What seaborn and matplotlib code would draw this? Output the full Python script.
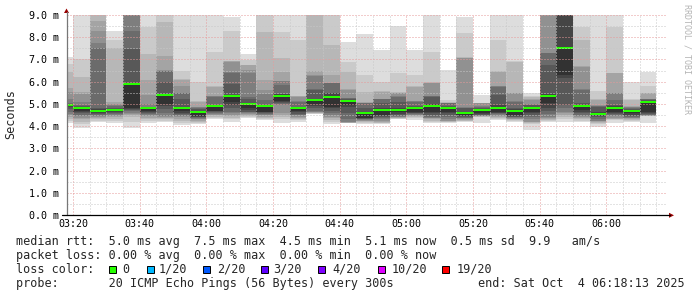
import numpy as np
import pandas as pd
import matplotlib
matplotlib.use("Agg")
import matplotlib.pyplot as plt
from matplotlib.patches import Rectangle, Polygon
import seaborn as sns

# ---------------- data ----------------
# end time of each 300 s step
step_end = ["03:20", "03:25", "03:30", "03:35", "03:40", "03:45", "03:50", "03:55",
            "04:00", "04:05", "04:10", "04:15", "04:20", "04:25", "04:30", "04:35",
            "04:40", "04:45", "04:50", "04:55", "05:00", "05:05", "05:10", "05:15",
            "05:20", "05:25", "05:30", "05:35", "05:40", "05:45", "05:50", "05:55",
            "06:00", "06:05", "06:10", "06:15"]

# median rtt (ms) per step
median_rtt = [4.95, 4.80, 4.70, 4.73, 5.88, 4.83, 5.40, 4.83, 4.65, 4.89, 5.37, 5.00,
              4.90, 5.35, 4.83, 5.17, 5.33, 5.13, 4.58, 4.73, 4.73, 4.83, 4.90, 4.83,
              4.58, 4.73, 4.83, 4.70, 4.80, 5.37, 7.50, 4.90, 4.53, 4.83, 4.70, 5.07]

# 20 sorted ping rtts (ms) per step
b_0320 = [4.13, 4.22, 4.3, 4.4, 4.5, 4.55, 4.65, 4.75, 4.85, 4.9, 4.95, 4.98, 5.0, 5.03, 5.22, 5.55, 5.73, 6.45, 6.78, 7.13]
b_0325 = [3.92, 4.1, 4.2, 4.3, 4.38, 4.45, 4.5, 4.57, 4.62, 4.68, 4.8, 4.87, 4.9, 4.95, 5.1, 5.43, 5.55, 6.23, 7.0, 9.3]
b_0330 = [4.2, 4.25, 4.3, 4.35, 4.4, 4.45, 4.5, 4.55, 4.6, 4.65, 4.7, 4.75, 4.8, 7.53, 7.76, 8.3, 8.73, 9.2, 9.4, 9.6]
b_0335 = [4.15, 4.25, 4.33, 4.4, 4.45, 4.5, 4.55, 4.6, 4.64, 4.68, 4.73, 4.78, 4.83, 4.9, 4.95, 5.0, 5.1, 7.5, 7.88, 8.3]
b_0340 = [3.9, 4.2, 4.4, 4.5, 4.55, 4.6, 4.7, 4.74, 4.77, 4.8, 5.88, 5.95, 7.45, 8.3, 9.2, 9.3, 9.4, 9.5, 9.6, 9.7]
b_0345 = [4.13, 4.22, 4.3, 4.38, 4.45, 4.5, 4.55, 4.6, 4.65, 4.7, 4.83, 4.85, 4.86, 4.88, 5.0, 5.4, 6.08, 7.23, 8.47, 9.3]
b_0350 = [4.2, 4.25, 4.3, 4.35, 4.4, 4.45, 4.6, 4.75, 4.9, 5.0, 5.4, 5.45, 5.97, 6.48, 6.5, 6.52, 7.17, 8.7, 9.2, 9.4]
b_0355 = [4.05, 4.15, 4.25, 4.32, 4.4, 4.45, 4.5, 4.55, 4.6, 4.67, 4.83, 4.88, 5.22, 5.48, 5.49, 5.82, 6.08, 6.1, 6.48, 9.1]
b_0400 = [4.08, 4.15, 4.2, 4.25, 4.3, 4.33, 4.36, 4.4, 4.42, 4.45, 4.65, 4.7, 4.78, 4.83, 4.86, 4.88, 5.1, 5.12, 6.0, 9.1]
b_0405 = [4.3, 4.38, 4.43, 4.48, 4.52, 4.56, 4.6, 4.63, 4.66, 4.68, 4.89, 4.92, 4.95, 5.33, 5.34, 5.35, 5.78, 5.8, 7.32, 9.1]
b_0410 = [4.2, 4.3, 4.38, 4.45, 4.5, 4.58, 4.65, 4.8, 4.95, 5.1, 5.37, 5.4, 5.88, 6.4, 6.42, 6.9, 6.92, 6.94, 8.3, 8.93]
b_0415 = [4.35, 4.42, 4.47, 4.52, 4.56, 4.6, 4.63, 4.65, 4.72, 4.8, 5.0, 5.03, 5.22, 5.33, 6.38, 6.53, 6.75, 6.77, 6.98, 7.23]
b_0420 = [4.28, 4.33, 4.38, 4.43, 4.48, 4.52, 4.55, 4.58, 4.62, 4.65, 4.9, 4.93, 4.95, 5.18, 5.43, 5.63, 6.08, 8.22, 9.2, 9.4]
b_0425 = [4.13, 4.3, 4.4, 4.5, 4.6, 4.95, 5.0, 5.05, 5.1, 5.15, 5.35, 5.43, 5.45, 5.85, 6.03, 6.05, 6.45, 7.08, 8.25, 9.1]
b_0430 = [4.2, 4.27, 4.33, 4.38, 4.43, 4.48, 4.52, 4.56, 4.62, 4.67, 4.83, 4.86, 4.88, 5.1, 5.12, 5.33, 5.35, 5.37, 7.88, 9.1]
b_0435 = [4.53, 4.56, 4.58, 4.6, 4.62, 4.65, 4.7, 4.8, 4.9, 5.0, 5.17, 5.22, 5.63, 5.65, 6.27, 6.29, 6.48, 9.2, 9.3, 9.4]
b_0440 = [4.08, 4.2, 4.28, 4.35, 4.4, 4.5, 4.6, 4.7, 4.8, 4.85, 5.33, 5.48, 5.5, 5.92, 5.94, 5.96, 6.3, 7.65, 9.2, 9.4]
b_0445 = [4.13, 4.14, 4.15, 4.16, 4.18, 4.2, 4.3, 4.6, 4.85, 4.97, 5.13, 5.17, 5.2, 5.25, 5.27, 5.63, 5.65, 6.45, 6.9, 7.8]
b_0450 = [4.1, 4.15, 4.18, 4.22, 4.25, 4.28, 4.3, 4.32, 4.35, 4.38, 4.58, 4.62, 4.8, 5.03, 5.04, 5.05, 5.07, 5.55, 6.3, 8.15]
b_0455 = [4.08, 4.12, 4.15, 4.2, 4.25, 4.3, 4.35, 4.4, 4.45, 4.5, 4.73, 4.8, 5.03, 5.22, 5.23, 5.24, 5.55, 5.57, 6.0, 7.43]
b_0500 = [4.3, 4.32, 4.35, 4.38, 4.4, 4.42, 4.45, 4.5, 4.55, 4.62, 4.73, 4.8, 5.1, 5.33, 5.35, 5.48, 5.5, 5.52, 6.38, 8.52]
b_0505 = [4.28, 4.35, 4.4, 4.45, 4.5, 4.52, 4.55, 4.57, 4.6, 4.65, 4.83, 4.88, 4.92, 5.1, 5.12, 5.14, 5.78, 5.8, 6.3, 7.43]
b_0510 = [4.13, 4.2, 4.25, 4.3, 4.35, 4.38, 4.42, 4.5, 4.6, 4.65, 4.9, 4.98, 5.33, 5.35, 5.37, 5.93, 5.95, 5.97, 7.32, 9.1]
b_0515 = [4.13, 4.17, 4.2, 4.22, 4.25, 4.3, 4.4, 4.5, 4.6, 4.65, 4.83, 4.88, 4.92, 5.03, 5.04, 5.05, 5.06, 5.07, 5.18, 6.53]
b_0520 = [4.2, 4.22, 4.25, 4.28, 4.3, 4.35, 4.37, 4.4, 4.45, 4.5, 4.58, 4.65, 4.8, 4.82, 4.84, 7.05, 7.07, 7.09, 8.18, 8.93]
b_0525 = [4.15, 4.42, 4.43, 4.44, 4.45, 4.47, 4.5, 4.52, 4.55, 4.6, 4.73, 4.78, 4.83, 4.88, 4.9, 5.03, 5.04, 5.05, 5.06, 5.4]
b_0530 = [4.28, 4.32, 4.36, 4.4, 4.45, 4.5, 4.54, 4.57, 4.6, 4.65, 4.83, 4.95, 5.4, 5.78, 5.8, 5.82, 6.45, 6.47, 7.88, 9.1]
b_0535 = [4.2, 4.23, 4.27, 4.3, 4.33, 4.37, 4.4, 4.42, 4.45, 4.5, 4.7, 4.75, 4.8, 5.1, 5.12, 5.48, 5.5, 6.9, 6.92, 9.1]
b_0540 = [3.82, 4.1, 4.15, 4.18, 4.2, 4.3, 4.4, 4.5, 4.6, 4.65, 4.8, 4.85, 4.95, 4.97, 4.98, 5.18, 5.2, 5.33, 5.35, 5.48]
b_0545 = [4.2, 4.23, 4.27, 4.3, 4.35, 4.4, 4.55, 4.7, 4.8, 5.03, 5.37, 5.43, 6.75, 7.28, 7.3, 9.1, 9.2, 9.3, 9.4, 9.5]
b_0550 = [4.2, 4.3, 4.42, 4.5, 4.58, 4.65, 4.8, 4.95, 6.15, 6.3, 7.5, 9.1, 9.2, 9.3, 9.4, 9.5, 9.6, 9.7, 9.8, 9.9]
b_0555 = [4.2, 4.25, 4.3, 4.35, 4.4, 4.45, 4.5, 4.58, 4.65, 4.73, 4.9, 4.95, 5.03, 5.63, 5.65, 6.68, 6.7, 7.88, 8.48, 9.1]
b_0600 = [3.98, 4.1, 4.15, 4.2, 4.22, 4.25, 4.3, 4.42, 4.45, 4.5, 4.53, 4.65, 4.88, 4.9, 4.92, 4.94, 5.18, 5.2, 5.58, 9.1]
b_0605 = [4.13, 4.28, 4.3, 4.33, 4.35, 4.45, 4.5, 4.55, 4.6, 4.65, 4.83, 4.9, 4.95, 5.18, 5.48, 5.5, 6.38, 6.4, 8.48, 9.1]
b_0610 = [4.2, 4.25, 4.28, 4.32, 4.35, 4.38, 4.42, 4.47, 4.52, 4.58, 4.7, 4.74, 4.77, 4.8, 4.85, 4.88, 4.9, 5.18, 5.2, 6.0]
b_0615 = [4.15, 4.44, 4.45, 4.46, 4.47, 4.48, 4.5, 4.55, 4.6, 4.65, 5.07, 5.12, 5.18, 5.2, 5.22, 5.24, 5.48, 5.5, 5.82, 6.45]

smoke_rows = [b_0320, b_0325, b_0330, b_0335, b_0340, b_0345, b_0350, b_0355,
              b_0400, b_0405, b_0410, b_0415, b_0420, b_0425, b_0430, b_0435,
              b_0440, b_0445, b_0450, b_0455, b_0500, b_0505, b_0510, b_0515,
              b_0520, b_0525, b_0530, b_0535, b_0540, b_0545, b_0550, b_0555,
              b_0600, b_0605, b_0610, b_0615]

y_ticks = [0, 1, 2, 3, 4, 5, 6, 7, 8, 9]
x_tick_labels = ["03:20", "03:40", "04:00", "04:20", "04:40", "05:00", "05:20", "05:40", "06:00"]
loss_levels = ["0", "1/20", "2/20", "3/20", "4/20", "10/20", "19/20"]
loss_colors = ["#26ff00", "#00b8ff", "#0059ff", "#5e00ff", "#7e00ff", "#dd00ff", "#ff0000"]

# ---------------- helpers ----------------
def to_min(s):
    h, m = s.split(":")
    return int(h) * 60 + int(m)

t_end = np.array([to_min(s) for s in step_end], dtype=float)
t_mid = t_end - 2.5          # centre of the 5 minute step
x_start = to_min("06:18") + 13 / 60 - 180   # 3 hours ending 06:18:13
x_stop = to_min("06:18") + 13 / 60

P = np.sort(np.array(smoke_rows, dtype=float), axis=1)
med = np.array(median_rtt)

W, H = 697, 297
sns.set_style("white")
plt.rcParams["font.family"] = ["DejaVu Sans Mono"]

fig = plt.figure(figsize=(W / 100, H / 100), dpi=100, facecolor="white")
ax = fig.add_axes([67 / W, 1 - 215 / H, 600 / W, 200 / H])
ax.set_facecolor("white")

# smoke: 10 nested bands, outer light -> inner dark
n = P.shape[1]
half = n // 2
for ibot in range(1, half + 1):
    itop = n + 1 - ibot
    g = int(190 / half * (half - ibot)) + 50
    col = "#%02x%02x%02x" % (g, g, g)
    lo = P[:, ibot - 1]
    hi = P[:, itop - 1]
    df = pd.DataFrame({"t": t_mid, "h": hi - lo})
    sns.barplot(data=df, x="t", y="h", bottom=lo, native_scale=True, orient="x",
                width=1, color=col, saturation=1, errorbar=None,
                linewidth=0, edgecolor="none", antialiased=False, ax=ax)

# median line (coloured by loss = 0)
sw = 9.0 / 200
dfm = pd.DataFrame({"t": t_mid, "h": np.full(len(med), 2 * sw)})
sns.barplot(data=dfm, x="t", y="h", bottom=med - sw, native_scale=True, orient="x",
            width=1, color=loss_colors[0], saturation=1, errorbar=None,
            linewidth=0, edgecolor="none", antialiased=False, ax=ax)

ax.set_xlim(x_start, x_stop)
ax.set_ylim(0, 9.0)
ax.set_xlabel("")
ax.set_ylabel("")

# ticks & grid
maj_x = [to_min(s) for s in x_tick_labels]
min_x = [v for v in np.arange(200, 380, 5) if v not in maj_x and x_start < v < x_stop]
ax.set_xticks(maj_x)
ax.set_xticklabels(x_tick_labels)
ax.set_xticks(min_x, minor=True)
ax.set_yticks(y_ticks)
ax.set_yticklabels(["%.1f m" % v for v in y_ticks])
ax.set_yticks([v + 0.5 for v in y_ticks[:-1]], minor=True)
ax.set_axisbelow(False)
ax.grid(which="major", color="#e79a9a", linestyle=(0, (1, 2)), linewidth=0.72)
ax.grid(which="minor", color="#c8c8c8", linestyle=(0, (1, 2)), linewidth=0.72)
ax.tick_params(which="both", length=0)
ax.tick_params(axis="y", pad=5.8, labelsize=7.2, labelcolor="#000000")
ax.tick_params(axis="x", pad=3.0, labelsize=7.2, labelcolor="#000000")
for sp in ax.spines.values():
    sp.set_visible(False)

def fx(x):
    return x / W

def fy(y):
    return 1 - y / H

# axes lines with arrows
fig.add_artist(plt.Line2D([fx(66.5), fx(66.5)], [fy(215), fy(12)], color="#777777", lw=0.9))
fig.add_artist(plt.Line2D([fx(62), fx(670)], [fy(215.3), fy(215.3)], color="#000000", lw=0.9))
fig.add_artist(Polygon([[fx(64), fy(13)], [fx(69), fy(13)], [fx(66.5), fy(8.5)]],
                       closed=True, transform=fig.transFigure, color="#990000", lw=0))
fig.add_artist(Polygon([[fx(669), fy(212.8)], [fx(669), fy(217.8)], [fx(674), fy(215.3)]],
                       closed=True, transform=fig.transFigure, color="#990000", lw=0))

# side texts
fig.text(fx(11), fy(114), "Seconds", rotation=90, ha="center", va="center", fontsize=8.5)
fig.text(fx(687), fy(4), "RRDTOOL / TOBI OETIKER", rotation=270, ha="center", va="top",
         fontsize=6.0, color="#b4b4b4")

# legend / statistics block
fs = 8.5
fig.text(fx(16), fy(245), "median rtt:  5.0 ms avg  7.5 ms max  4.5 ms min  5.1 ms now  0.5 ms sd  9.9   am/s",
         fontsize=fs, va="baseline")
fig.text(fx(16), fy(259), "packet loss: 0.00 % avg  0.00 % max  0.00 % min  0.00 % now",
         fontsize=fs, va="baseline")
fig.text(fx(16), fy(273), "loss color:", fontsize=fs, va="baseline")
box_x = [109, 147, 203, 261, 318, 378, 442]
lab_x = [122, 159, 217, 273, 332, 392, 457]
for bx, lx, lab, c in zip(box_x, lab_x, loss_levels, loss_colors):
    fig.add_artist(Rectangle((fx(bx), fy(272.5)), 7 / W, 7 / H, transform=fig.transFigure,
                             facecolor=c, edgecolor="black", lw=0.7))
    fig.text(fx(lx), fy(273), lab, fontsize=fs, va="baseline")
fig.text(fx(16), fy(287), "probe:       20 ICMP Echo Pings (56 Bytes) every 300s",
         fontsize=fs, va="baseline")
fig.text(fx(478), fy(287), "end: Sat Oct  4 06:18:13 2025", fontsize=fs, va="baseline")

fig.savefig("out.png", dpi=100, facecolor="white")
